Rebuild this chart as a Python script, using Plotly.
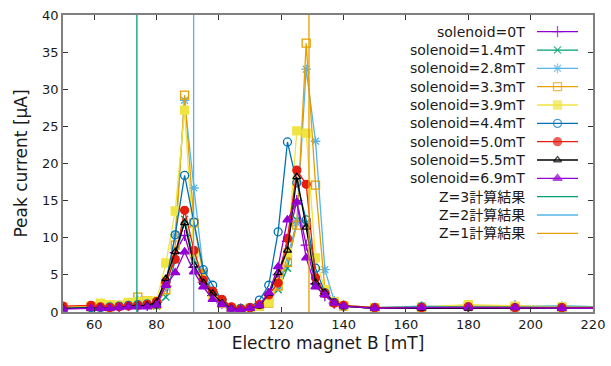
import plotly.graph_objects as go

# ---------------- data ----------------
B = [50, 59, 62, 65, 68, 71, 74, 77, 80, 83, 86, 89, 92, 95, 98, 101, 104, 107, 110,
     113, 116, 119, 122, 125, 128, 131, 134, 137, 140, 150, 165, 180, 195, 210, 225]

s_0T   = [0.6,0.7,0.9,0.6,0.7,0.9,0.8,0.9,1.3,3.5,8.0,10.3,6.0,4.0,2.2,1.2,0.5,0.4,0.5,
          1.0,2.3,5.0,9.5,15.0,9.0,3.8,2.2,1.2,0.8,0.5,0.6,0.7,0.8,0.6,0.6]
s_1_4  = [0.5,0.6,0.6,0.7,0.8,0.9,1.5,1.2,0.8,2.0,7.0,12.5,7.0,4.5,2.3,1.2,0.5,0.4,0.5,
          0.9,2.0,3.0,5.9,12.4,12.0,4.0,2.5,1.3,0.8,0.5,0.6,0.6,0.7,0.8,0.7]
s_2_8  = [0.6,0.7,0.8,0.7,0.8,0.9,1.6,1.3,1.2,3.5,10.4,28.5,16.7,5.5,2.8,1.3,0.6,0.4,0.5,
          0.9,1.8,3.5,7.5,12.0,32.7,23.0,5.7,1.5,0.9,0.6,0.8,0.8,0.9,0.8,0.7]
s_3_3  = [0.6,0.7,0.8,0.7,0.9,1.2,2.0,1.5,1.0,3.0,9.0,29.2,12.0,5.0,2.5,1.2,0.5,0.3,0.5,
          0.8,1.2,3.5,6.7,11.7,36.2,17.1,3.0,1.3,0.8,0.5,0.6,0.8,0.7,0.6,0.6]
s_3_9  = [0.7,0.8,1.2,1.0,0.9,1.3,1.4,1.5,1.5,6.6,13.6,27.2,8.0,4.5,2.3,1.2,0.5,0.4,0.5,
          0.8,1.3,4.0,8.0,24.4,24.1,7.3,3.0,1.4,0.9,0.6,0.7,1.0,0.8,0.7,0.6]
s_4_4  = [0.5,0.6,0.6,0.7,0.8,0.9,1.0,1.1,1.0,4.0,10.4,18.4,12.1,5.7,3.6,1.6,0.6,0.5,0.6,
          1.6,3.6,10.8,22.9,17.4,12.4,5.9,2.6,1.3,0.8,0.6,0.7,0.7,0.6,0.6,0.6]
s_5_0  = [0.8,0.9,0.7,0.6,0.7,0.8,0.9,1.0,1.4,4.0,7.1,13.7,8.3,4.3,2.8,1.7,0.7,0.4,0.6,
          1.0,2.3,3.9,9.9,19.1,17.2,4.6,2.5,1.2,0.9,0.6,0.6,0.7,0.6,0.6,0.6]
s_5_5  = [0.5,0.5,0.6,0.5,0.6,0.8,0.8,0.9,1.3,4.5,8.1,12.0,6.3,4.0,2.5,1.2,0.5,0.3,0.5,
          0.8,2.5,5.3,8.3,18.2,11.4,4.0,2.6,1.3,0.8,0.5,0.5,0.5,0.6,0.5,0.5]
s_6_9  = [0.4,0.5,0.5,0.5,0.6,0.7,0.7,0.7,0.9,3.6,5.3,8.1,5.4,3.4,1.7,1.0,0.4,0.3,0.5,
          0.9,2.6,6.1,12.4,14.8,7.3,3.4,2.3,1.2,0.8,0.5,0.6,0.6,0.6,0.5,0.5]

series_names = ["solenoid=0T", "solenoid=1.4mT", "solenoid=2.8mT", "solenoid=3.3mT",
                "solenoid=3.9mT", "solenoid=4.4mT", "solenoid=5.0mT", "solenoid=5.5mT",
                "solenoid=6.9mT"]
series_values = [s_0T, s_1_4, s_2_8, s_3_3, s_3_9, s_4_4, s_5_0, s_5_5, s_6_9]

calc_names = ["Z=3計算結果", "Z=2計算結果", "Z=1計算結果"]
calc_B = [73.7, 91.9, 128.9]
y_range = [0, 40]

x_ticks = [60, 80, 100, 120, 140, 160, 180, 200, 220]
y_ticks = [0, 5, 10, 15, 20, 25, 30, 35, 40]

# ---------------- style ----------------
colors = ["#9400d3", "#009e73", "#56b4e9", "#e69f00", "#f0e442", "#0072b2",
          "#e51e10", "#000000", "#9400d3"]
symbols = ["cross-thin-open", "x-thin-open", "asterisk-open", "square-open", "square",
           "circle-open", "circle", "triangle-up-open", "triangle-up"]
sizes = [8, 7, 8, 8, 8, 8, 8, 7, 8]
calc_colors = ["#009e73", "#56b4e9", "#e69f00"]

FONT = "DejaVu Sans, Noto Sans CJK JP, sans-serif"
W, H = 611, 366
L, R, T, Bm = 63, 18, 15, 54
PW, PH = W - L - R, H - T - Bm

fig = go.Figure()

for name, vals, c, sym, sz in zip(series_names, series_values, colors, symbols, sizes):
    fig.add_trace(go.Scatter(
        x=B, y=vals, mode="lines+markers", name=name, showlegend=False,
        line=dict(color=c, width=1.3),
        marker=dict(symbol=sym, size=sz, color=c, line=dict(color=c, width=1.3)),
    ))

for name, bx, c in zip(calc_names, calc_B, calc_colors):
    fig.add_trace(go.Scatter(
        x=[bx, bx], y=y_range, mode="lines", name=name, showlegend=False,
        line=dict(color=c, width=1.3),
    ))

# ---------------- custom gnuplot-like legend ----------------
def px_to_paper_x(px):
    return (px - L) / PW

def px_to_paper_y(py):
    return 1 - (py - T) / PH

leg_text_right = 527
leg_x0, leg_x1 = 537, 578
leg_y0, leg_dy = 31.7, 18.33

all_names = series_names + calc_names
annotations = []
for i, name in enumerate(all_names):
    py = leg_y0 + i * leg_dy
    annotations.append(dict(
        x=px_to_paper_x(leg_text_right), y=px_to_paper_y(py), xref="paper", yref="paper",
        text=name, showarrow=False, xanchor="right", yanchor="middle",
        font=dict(family=FONT, size=14, color="#1a1a1a"),
    ))
    if i < len(series_names):
        c, sym, sz, marks = colors[i], symbols[i], sizes[i], True
    else:
        c, sym, sz, marks = calc_colors[i - len(series_names)], "circle", 0, False
    xs = [px_to_paper_x(leg_x0), px_to_paper_x((leg_x0 + leg_x1) / 2), px_to_paper_x(leg_x1)]
    yv = px_to_paper_y(py)
    fig.add_trace(go.Scatter(
        x=xs, y=[yv] * 3, xaxis="x2", yaxis="y2",
        mode="lines+markers" if marks else "lines", showlegend=False, hoverinfo="skip",
        line=dict(color=c, width=1.3),
        marker=dict(symbol=sym, size=[0, sz, 0], color=c, line=dict(color=c, width=1.3)),
    ))

axis_common = dict(
    showline=True, linecolor="#808080", linewidth=1.5, mirror="allticks",
    ticks="inside", ticklen=5, tickcolor="#333333", tickwidth=1.2,
    showgrid=False, zeroline=False, automargin=False,
    tickfont=dict(family=FONT, size=13, color="#1a1a1a"),
)

fig.update_layout(
    width=W, height=H,
    margin=dict(l=L, r=R, t=T, b=Bm, pad=0, autoexpand=False),
    paper_bgcolor="white", plot_bgcolor="white",
    font=dict(family=FONT, color="#1a1a1a"),
    xaxis=dict(range=[50, 220], tickvals=x_ticks, **axis_common,
               title=dict(text="Electro magnet B [mT]", standoff=6,
                          font=dict(family=FONT, size=17, color="#1a1a1a"))),
    yaxis=dict(range=y_range, tickvals=y_ticks, **axis_common,
               title=dict(text="Peak current [μA]", standoff=10,
                          font=dict(family=FONT, size=17, color="#1a1a1a"))),
    xaxis2=dict(range=[0, 1], overlaying="x", visible=False, fixedrange=True),
    yaxis2=dict(range=[0, 1], overlaying="y", visible=False, fixedrange=True),
    annotations=annotations,
    showlegend=False,
)

fig.write_html("out.html")
